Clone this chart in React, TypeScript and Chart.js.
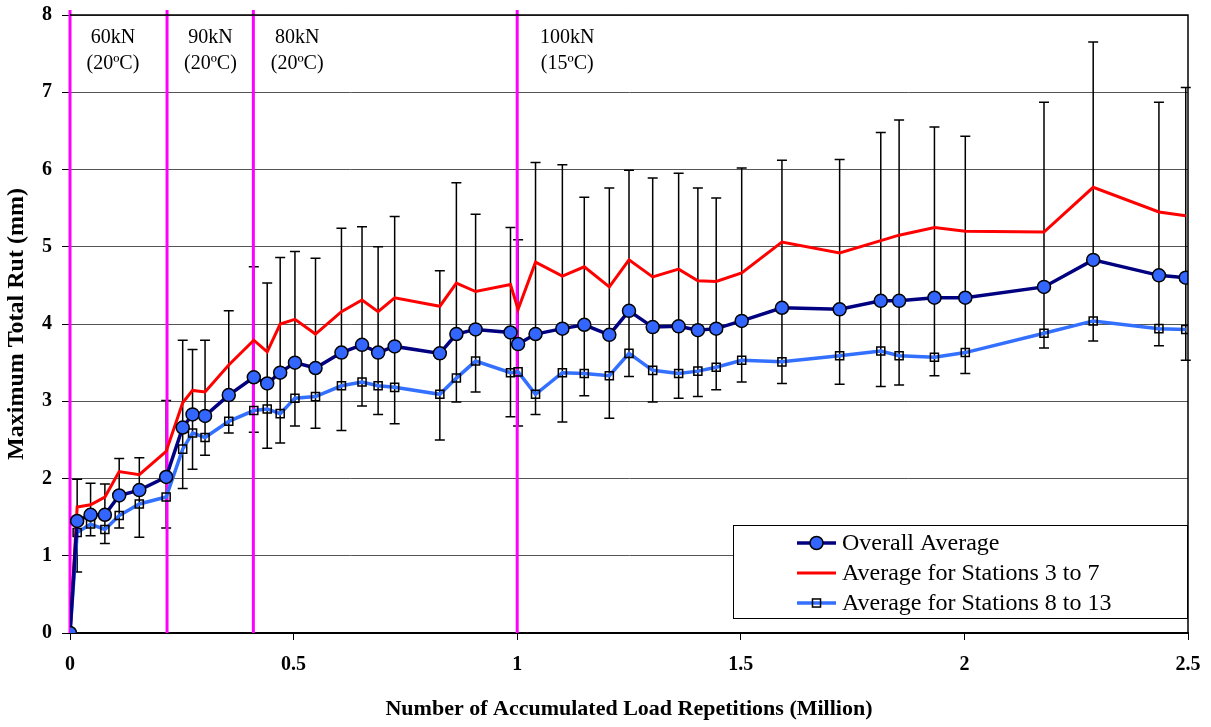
import React, { useEffect, useRef } from "react";
import { Chart, registerables } from "chart.js";

Chart.register(...registerables);

// Accumulated load repetitions (million) at each survey
const loadReps = [
  0, 0.016, 0.046, 0.078, 0.11, 0.155, 0.215, 0.252, 0.274, 0.302, 0.355, 0.411, 0.441, 0.47, 0.503,
  0.549, 0.607, 0.653, 0.689, 0.726, 0.827, 0.864, 0.907, 0.985, 1.002, 1.041, 1.101, 1.15, 1.206,
  1.25, 1.303, 1.361, 1.404, 1.445, 1.502, 1.592, 1.721, 1.813, 1.854, 1.933, 2.002, 2.178, 2.288,
  2.435, 2.495,
];

// Maximum total rut (mm)
const overallAverage = [
  0, 1.45, 1.53, 1.53, 1.78, 1.85, 2.02, 2.66, 2.83, 2.81, 3.08, 3.31, 3.23, 3.37, 3.5, 3.43, 3.63,
  3.73, 3.63, 3.71, 3.62, 3.87, 3.93, 3.89, 3.74, 3.87, 3.94, 3.99, 3.86, 4.17, 3.96, 3.97, 3.92,
  3.94, 4.04, 4.21, 4.19, 4.3, 4.3, 4.34, 4.34, 4.48, 4.83, 4.63, 4.6,
];

const stations3to7 = [
  0, 1.63, 1.66, 1.76, 2.09, 2.05, 2.35, 2.98, 3.14, 3.12, 3.47, 3.79, 3.64, 4.0, 4.06, 3.87, 4.16,
  4.31, 4.16, 4.34, 4.23, 4.53, 4.42, 4.51, 4.19, 4.8, 4.62, 4.74, 4.48, 4.83, 4.61, 4.71, 4.56,
  4.55, 4.66, 5.06, 4.92, 5.08, 5.15, 5.25, 5.2, 5.19, 5.77, 5.45, 5.4,
];

const stations8to13 = [
  0, 1.3, 1.41, 1.34, 1.52, 1.67, 1.76, 2.38, 2.59, 2.53, 2.74, 2.88, 2.9, 2.84, 3.04, 3.06, 3.2,
  3.25, 3.2, 3.18, 3.09, 3.3, 3.52, 3.37, 3.38, 3.09, 3.37, 3.36, 3.33, 3.62, 3.4, 3.36, 3.39, 3.44,
  3.53, 3.51, 3.59, 3.65, 3.59, 3.57, 3.63, 3.88, 4.04, 3.94, 3.93,
];

// Error bar range (mm) around each survey
const errHigh = [
  null, 1.99, 1.94, 1.93, 2.26, 2.27, 3.01, 3.79, 3.67, 3.79, 4.17, 4.74, 4.53, 4.86, 4.94, 4.85,
  5.24, 5.26, 5.0, 5.39, 4.69, 5.83, 5.42, 5.25, 5.09, 6.09, 6.06, 5.64, 5.76, 5.99, 5.89, 5.95,
  5.76, 5.63, 6.02, 6.12, 6.13, 6.48, 6.64, 6.55, 6.43, 6.87, 7.65, 6.87, 7.06,
];
const errLow = [
  null, 0.79, 1.26, 1.16, 1.36, 1.24, 1.36, 1.87, 2.12, 2.3, 2.59, 2.6, 2.39, 2.46, 2.68, 2.65,
  2.62, 2.94, 2.83, 2.71, 2.5, 2.99, 3.12, 2.8, 2.68, 2.83, 2.73, 3.07, 2.78, 3.32, 2.99, 3.04,
  3.06, 3.15, 3.25, 3.23, 3.22, 3.19, 3.21, 3.33, 3.36, 3.69, 3.78, 3.72, 3.53,
];

// Loading stage boundaries (million repetitions) and their labels
const stageStarts = [0, 0.217, 0.41, 1.0];
const stageLabelX = [0.096, 0.314, 0.508, 1.112];
const stageLoads = ["60kN", "90kN", "80kN", "100kN"];
const stageTemps = ["(20ºC)", "(20ºC)", "(20ºC)", "(15ºC)"];

const seriesNames = [
  "Overall Average",
  "Average for Stations 3 to 7",
  "Average for Stations 8 to 13",
];

const SERIF = "'Liberation Serif', 'Times New Roman', serif";

const toPoints = (ys: number[]) => loadReps.map((x, i) => ({ x, y: ys[i] }));

const overlayPlugin = {
  id: "rutOverlay",
  beforeDatasetsDraw(chart: any) {
    const { ctx, chartArea: a, scales } = chart;
    const xs = scales.x;
    const ys = scales.y;
    ctx.save();

    // error bars
    ctx.strokeStyle = "#000";
    ctx.lineWidth = 1.5;
    loadReps.forEach((v, i) => {
      const hi = errHigh[i];
      const lo = errLow[i];
      if (hi == null || lo == null) return;
      const px = xs.getPixelForValue(v);
      const pt = ys.getPixelForValue(hi);
      const pb = ys.getPixelForValue(lo);
      ctx.beginPath();
      ctx.moveTo(px, pt);
      ctx.lineTo(px, pb);
      ctx.moveTo(px - 5, pt);
      ctx.lineTo(px + 5, pt);
      ctx.moveTo(px - 5, pb);
      ctx.lineTo(px + 5, pb);
      ctx.stroke();
    });

    // stage boundaries
    ctx.strokeStyle = "#FF00FF";
    ctx.lineWidth = 3;
    stageStarts.forEach((v) => {
      const px = xs.getPixelForValue(v);
      ctx.beginPath();
      ctx.moveTo(px, a.top - 5);
      ctx.lineTo(px, a.bottom);
      ctx.stroke();
    });

    // stage labels
    ctx.fillStyle = "#000";
    ctx.font = `20px ${SERIF}`;
    ctx.textAlign = "center";
    ctx.textBaseline = "middle";
    stageLabelX.forEach((v, i) => {
      const px = xs.getPixelForValue(v);
      ctx.fillText(stageLoads[i], px, a.top + 23);
      ctx.fillText(stageTemps[i], px, a.top + 49);
    });
    ctx.restore();
  },
  afterDatasetsDraw(chart: any) {
    const { ctx, chartArea: a } = chart;
    ctx.save();

    // plot frame (top and right)
    ctx.strokeStyle = "#000";
    ctx.lineWidth = 1.5;
    ctx.beginPath();
    ctx.moveTo(a.left, a.top);
    ctx.lineTo(a.right, a.top);
    ctx.lineTo(a.right, a.bottom);
    ctx.stroke();

    // legend box
    const w = 455;
    const h = 94;
    const bx = a.right - w;
    const by = a.bottom - 14 - h;
    ctx.fillStyle = "#fff";
    ctx.fillRect(bx, by, w, h);
    ctx.strokeStyle = "#000";
    ctx.lineWidth = 1;
    ctx.strokeRect(bx + 0.5, by + 0.5, w - 1, h - 1);

    ctx.font = `24px ${SERIF}`;
    ctx.textAlign = "left";
    ctx.textBaseline = "middle";
    chart.data.datasets.forEach((ds: any, i: number) => {
      const ry = by + 18 + i * 30;
      const x0 = bx + 64;
      const x1 = bx + 103;
      ctx.strokeStyle = ds.borderColor;
      ctx.lineWidth = ds.borderWidth;
      ctx.beginPath();
      ctx.moveTo(x0, ry);
      ctx.lineTo(x1, ry);
      ctx.stroke();
      const cx = (x0 + x1) / 2;
      if (ds.pointStyle === "circle" && ds.pointRadius > 0) {
        ctx.beginPath();
        ctx.arc(cx, ry, ds.pointRadius, 0, Math.PI * 2);
        ctx.fillStyle = ds.pointBackgroundColor;
        ctx.fill();
        ctx.lineWidth = ds.pointBorderWidth;
        ctx.strokeStyle = ds.pointBorderColor;
        ctx.stroke();
      } else if (ds.pointStyle === "rect" && ds.pointRadius > 0) {
        const s = ds.pointRadius * Math.SQRT1_2;
        ctx.lineWidth = ds.pointBorderWidth;
        ctx.strokeStyle = ds.pointBorderColor;
        ctx.strokeRect(cx - s, ry - s, 2 * s, 2 * s);
      }
      ctx.fillStyle = "#000";
      ctx.fillText(ds.label, x1 + 6, ry + 1);
    });
    ctx.restore();
  },
};

export default function App() {
  const canvasRef = useRef<HTMLCanvasElement | null>(null);

  useEffect(() => {
    const canvas = canvasRef.current;
    if (!canvas) return;
    const chart = new Chart(canvas, {
      type: "line",
      data: {
        datasets: [
          {
            label: seriesNames[0],
            data: toPoints(overallAverage),
            borderColor: "#000080",
            borderWidth: 3.5,
            pointStyle: "circle",
            pointRadius: 6.5,
            pointBackgroundColor: "#3366FF",
            pointBorderColor: "#000",
            pointBorderWidth: 1.5,
            tension: 0,
          },
          {
            label: seriesNames[1],
            data: toPoints(stations3to7),
            borderColor: "#FF0000",
            borderWidth: 3,
            pointStyle: "circle",
            pointRadius: 0,
            tension: 0,
          },
          {
            label: seriesNames[2],
            data: toPoints(stations8to13),
            borderColor: "#3370FF",
            borderWidth: 3.5,
            pointStyle: "rect",
            pointRadius: 5.7,
            pointBackgroundColor: "rgba(0,0,0,0)",
            pointBorderColor: "#000",
            pointBorderWidth: 1.5,
            tension: 0,
          },
        ],
      },
      options: {
        responsive: false,
        animation: false,
        parsing: false,
        layout: { padding: { top: 15, right: 23, left: 0, bottom: 0 } },
        plugins: {
          legend: { display: false },
          tooltip: { enabled: false },
        },
        scales: {
          x: {
            type: "linear",
            min: 0,
            max: 2.5,
            ticks: {
              stepSize: 0.5,
              color: "#000",
              padding: 13,
              maxRotation: 0,
              font: { family: SERIF, size: 20, weight: "bold" },
              callback: (v: any) => String(Number(v)),
            },
            grid: {
              drawOnChartArea: false,
              drawTicks: true,
              tickLength: 7,
              color: "#000",
            },
            border: { color: "#000", width: 2 },
            title: {
              display: true,
              text: "Number of Accumulated Load Repetitions (Million)",
              color: "#000",
              font: { family: SERIF, size: 22, weight: "bold" },
              padding: { top: 0, bottom: 4 },
            },
            afterFit: (scale: any) => {
              scale.height = 94;
              scale.paddingLeft = 0;
              scale.paddingRight = 0;
            },
          },
          y: {
            type: "linear",
            min: 0,
            max: 8,
            ticks: {
              stepSize: 1,
              color: "#000",
              padding: 10,
              font: { family: SERIF, size: 20, weight: "bold" },
            },
            grid: {
              color: "#555",
              lineWidth: 1,
              tickLength: 8,
              tickColor: "#000",
            },
            border: { color: "#000", width: 1 },
            title: {
              display: true,
              text: "Maximum Total Rut (mm)",
              color: "#000",
              font: { family: SERIF, size: 24, weight: "bold" },
              padding: { top: 2, bottom: 0 },
            },
            afterFit: (scale: any) => {
              scale.width = 70;
              scale.paddingTop = 0;
              scale.paddingBottom = 0;
            },
          },
        },
      },
      plugins: [overlayPlugin],
    } as any);
    return () => chart.destroy();
  }, []);

  return (
    <div style={{ position: "absolute", left: 0, top: 0, width: 1211, height: 727, background: "#fff" }}>
      <canvas ref={canvasRef} width={1211} height={727} style={{ display: "block" }} />
    </div>
  );
}
